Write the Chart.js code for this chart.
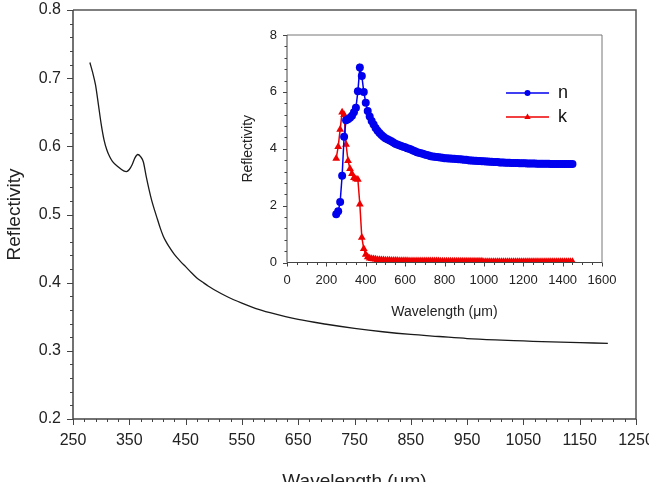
<!DOCTYPE html>
<html>
<head>
<meta charset="utf-8">
<script src="https://cdn.jsdelivr.net/npm/chart.js@4.4.1/dist/chart.umd.min.js"></script>
<style>
  html, body { margin: 0; padding: 0; background: #fff; }
  #wrap { position: relative; width: 649px; height: 482px; overflow: hidden; }
  canvas { position: absolute; left: 0; top: 0; }
</style>
</head>
<body>
<div id="wrap">
  <canvas id="main" width="649" height="500"></canvas>
  <canvas id="inset" width="649" height="482"></canvas>
</div>
<script>
// main curve
var mainWl = [280,285,290,295,300,305,310,315,320,330,340,345,350,355,360,365,370,375,380,385,390,395,400,405,410,415,420,430,440,450,460,470,480,490,500,525,550,575,600,650,700,750,800,850,900,950,1000,1050,1100,1150,1200];
var mainR = [0.723,0.708,0.690,0.662,0.633,0.610,0.595,0.585,0.578,0.570,0.564,0.563,0.566,0.573,0.583,0.588,0.585,0.577,0.556,0.537,0.520,0.506,0.493,0.480,0.469,0.4605,0.4535,0.4415,0.432,0.4235,0.415,0.407,0.401,0.395,0.390,0.379,0.370,0.362,0.356,0.346,0.339,0.333,0.328,0.324,0.321,0.318,0.316,0.3145,0.313,0.312,0.311];
var mainXTicks = [250,350,450,550,650,750,850,950,1050,1150,1250];
var mainYTicks = [0.2,0.3,0.4,0.5,0.6,0.7,0.8];

// inset (n, k)
var insetWl = [
  250,260,270,280,290,300,310,320,330,340,
  350,360,370,380,390,400,410,420,430,440,
  450,460,470,480,490,500,510,520,530,540,
  550,560,570,580,590,600,610,620,630,640,
  650,660,670,680,690,700,710,720,730,740,
  750,760,770,780,790,800,810,820,830,840,
  850,860,870,880,890,900,910,920,930,940,
  950,960,970,980,990,1000,1010,1020,1030,1040,
  1050,1060,1070,1080,1090,1100,1110,1120,1130,1140,
  1150,1160,1170,1180,1190,1200,1210,1220,1230,1240,
  1250,1260,1270,1280,1290,1300,1310,1320,1330,1340,
  1350,1360,1370,1380,1390,1400,1410,1420,1430,1440,
  1450];
var nVals = [
  1.70,1.80,2.13,3.05,4.42,5.00,5.04,5.09,5.16,5.28,
  5.44,6.02,6.86,6.56,6.00,5.62,5.33,5.13,4.98,4.85,
  4.73,4.63,4.55,4.48,4.42,4.37,4.33,4.30,4.26,4.22,
  4.18,4.15,4.12,4.10,4.07,4.05,4.02,4.00,3.97,3.94,
  3.91,3.88,3.86,3.84,3.82,3.80,3.78,3.76,3.74,3.73,
  3.72,3.71,3.70,3.69,3.68,3.67,3.67,3.66,3.66,3.65,
  3.65,3.64,3.63,3.63,3.62,3.61,3.61,3.60,3.59,3.59,
  3.58,3.58,3.57,3.57,3.56,3.56,3.55,3.55,3.54,3.54,
  3.53,3.53,3.53,3.52,3.52,3.52,3.51,3.51,3.51,3.50,
  3.50,3.50,3.50,3.49,3.49,3.49,3.49,3.48,3.48,3.48,
  3.48,3.48,3.47,3.47,3.47,3.47,3.47,3.47,3.47,3.46,
  3.46,3.46,3.46,3.46,3.46,3.46,3.46,3.46,3.46,3.46,
  3.46];
var kVals = [
  3.66,4.07,4.68,5.28,5.20,4.15,3.58,3.30,3.12,2.98,
  2.94,2.92,2.05,0.88,0.48,0.28,0.19,0.15,0.13,0.12,
  0.11,0.10,0.10,0.09,0.09,0.08,0.08,0.08,0.07,0.07,
  0.07,0.07,0.06,0.06,0.06,0.06,0.06,0.05,0.05,0.05,
  0.05,0.05,0.05,0.05,0.05,0.05,0.05,0.05,0.05,0.05,
  0.05,0.05,0.05,0.04,0.04,0.04,0.04,0.04,0.04,0.04,
  0.04,0.04,0.04,0.04,0.04,0.04,0.04,0.04,0.04,0.04,
  0.04,0.04,0.04,0.04,0.04,0.03,0.03,0.03,0.03,0.03,
  0.03,0.03,0.03,0.03,0.03,0.03,0.03,0.03,0.03,0.03,
  0.03,0.03,0.03,0.03,0.03,0.03,0.03,0.03,0.03,0.03,
  0.03,0.03,0.03,0.03,0.03,0.03,0.03,0.03,0.03,0.03,
  0.03,0.03,0.03,0.03,0.03,0.03,0.03,0.03,0.03,0.03,
  0.03];
var insetXTicks = [0,200,400,600,800,1000,1200,1400,1600];
var insetYTicks = [0,2,4,6,8];

var FONT = 'Liberation Sans, Arial, sans-serif';

function pts(xs, ys) {
  return xs.map(function (x, i) { return { x: x, y: ys[i] }; });
}

// axis box + outward major/minor ticks
var framePlugin = {
  id: 'frame',
  afterDatasetsDraw: function (chart, args, o) {
    var ctx = chart.ctx, a = chart.chartArea;
    var sx = chart.scales.x, sy = chart.scales.y;
    ctx.save();
    ctx.lineWidth = o.width;
    ctx.strokeStyle = o.frameColor;
    ctx.beginPath();
    ctx.moveTo(a.left, a.top); ctx.lineTo(a.right, a.top); ctx.lineTo(a.right, a.bottom);
    ctx.stroke();
    ctx.strokeStyle = o.axisColor;
    ctx.beginPath();
    ctx.moveTo(a.left, a.top); ctx.lineTo(a.left, a.bottom); ctx.lineTo(a.right, a.bottom);
    ctx.stroke();

    ctx.lineWidth = 1;
    ctx.beginPath();
    var n = Math.round((sx.max - sx.min) / o.minorX);
    for (var i = 0; i <= n; i++) {
      var v = sx.min + i * o.minorX;
      var major = sx.ticks.some(function (t) { return Math.abs(t.value - v) < 1e-6; });
      var px = Math.round(sx.getPixelForValue(v)) + 0.5;
      ctx.moveTo(px, a.bottom);
      ctx.lineTo(px, a.bottom + (major ? o.majorLen : o.minorLen));
    }
    n = Math.round((sy.max - sy.min) / o.minorY);
    for (var j = 0; j <= n; j++) {
      var w = sy.min + j * o.minorY;
      var maj = sy.ticks.some(function (t) { return Math.abs(t.value - w) < 1e-6; });
      var py = Math.round(sy.getPixelForValue(w)) + 0.5;
      ctx.moveTo(a.left, py);
      ctx.lineTo(a.left - (maj ? o.majorLen : o.minorLen), py);
    }
    ctx.stroke();
    ctx.restore();
  }
};

// inset legend: short line with marker, then label
var legendPlugin = {
  id: 'insetLegend',
  afterDraw: function (chart, args, o) {
    if (!o.show) return;
    var ctx = chart.ctx;
    ctx.save();
    chart.data.datasets.forEach(function (ds, i) {
      var y = o.y + i * o.dy;
      var cx = (o.x1 + o.x2) / 2;
      ctx.strokeStyle = ds.borderColor;
      ctx.lineWidth = 1.5;
      ctx.beginPath();
      ctx.moveTo(o.x1, y); ctx.lineTo(o.x2, y);
      ctx.stroke();
      ctx.fillStyle = ds.backgroundColor;
      ctx.beginPath();
      if (ds.pointStyle === 'triangle') {
        ctx.moveTo(cx, y - 3.5); ctx.lineTo(cx + 3.2, y + 2); ctx.lineTo(cx - 3.2, y + 2);
        ctx.closePath();
      } else {
        ctx.arc(cx, y, 3, 0, Math.PI * 2);
      }
      ctx.fill();
      ctx.fillStyle = '#111';
      ctx.font = '18px ' + FONT;
      ctx.textBaseline = 'middle';
      ctx.textAlign = 'left';
      ctx.fillText(ds.label, o.textX, y);
    });
    ctx.restore();
  }
};

function fixedTicks(list) {
  return function (s) { s.ticks = list.map(function (v) { return { value: v }; }); };
}
function plain(v) { return String(v); }

var mainChart = new Chart('main', {
  type: 'line',
  data: {
    datasets: [{
      data: pts(mainWl, mainR),
      borderColor: '#1a1a1a',
      borderWidth: 1.3,
      pointRadius: 0,
      cubicInterpolationMode: 'monotone',
      fill: false
    }]
  },
  options: {
    responsive: false,
    animation: false,
    layout: { padding: { top: 10, right: 13, left: 0, bottom: 0 } },
    plugins: {
      legend: { display: false },
      tooltip: { enabled: false },
      frame: { width: 1.5, axisColor: '#444', frameColor: '#555', minorX: 20, minorY: 0.02, majorLen: 6, minorLen: 3 },
      insetLegend: { show: false }
    },
    scales: {
      x: {
        type: 'linear', min: 250, max: 1250,
        afterBuildTicks: fixedTicks(mainXTicks),
        afterFit: function (s) { s.height = 81; s.paddingLeft = 0; s.paddingRight = 0; },
        grid: { display: false, drawTicks: false }, border: { display: false },
        ticks: { padding: 12, color: '#222', font: { family: FONT, size: 16 }, maxRotation: 0, autoSkip: false, callback: plain },
        title: { display: true, text: 'Wavelength (μm)', color: '#222', font: { family: FONT, size: 19 }, padding: { top: 0, bottom: 7 } }
      },
      y: {
        type: 'linear', min: 0.2, max: 0.8,
        afterBuildTicks: fixedTicks(mainYTicks),
        afterFit: function (s) { s.width = 73; s.paddingTop = 0; s.paddingBottom = 0; },
        grid: { display: false, drawTicks: false }, border: { display: false },
        ticks: { padding: 12, color: '#222', font: { family: FONT, size: 16 }, callback: function (v) { return v.toFixed(1); } },
        title: { display: true, text: 'Reflectivity', color: '#222', font: { family: FONT, size: 19 }, padding: { top: 3, bottom: 0 } }
      }
    }
  },
  plugins: [framePlugin, legendPlugin]
});

var insetChart = new Chart('inset', {
  type: 'line',
  data: {
    datasets: [{
      label: 'n',
      data: pts(insetWl, nVals),
      borderColor: '#0000ee',
      backgroundColor: '#0000ee',
      borderWidth: 1.5,
      pointStyle: 'circle',
      pointRadius: 4,
      pointBorderWidth: 0,
      tension: 0
    }, {
      label: 'k',
      data: pts(insetWl, kVals),
      borderColor: '#ee0000',
      backgroundColor: '#ee0000',
      borderWidth: 1.5,
      pointStyle: 'triangle',
      pointRadius: 4.5,
      pointBorderWidth: 0,
      tension: 0
    }]
  },
  options: {
    responsive: false,
    animation: false,
    layout: { padding: { top: 35, right: 47, left: 235, bottom: 161.5 } },
    plugins: {
      legend: { display: false },
      tooltip: { enabled: false },
      frame: { width: 1, axisColor: '#444', frameColor: '#777', minorX: 50, minorY: 0.4, majorLen: 4, minorLen: 2.5 },
      insetLegend: { show: true, x1: 506, x2: 549, textX: 558, y: 93, dy: 24 }
    },
    scales: {
      x: {
        type: 'linear', min: 0, max: 1600,
        afterBuildTicks: fixedTicks(insetXTicks),
        afterFit: function (s) { s.height = 58; s.paddingLeft = 0; s.paddingRight = 0; },
        grid: { display: false, drawTicks: false }, border: { display: false },
        ticks: { padding: 10, color: '#222', font: { family: FONT, size: 13 }, maxRotation: 0, autoSkip: false, callback: plain },
        title: { display: true, text: 'Wavelength (μm)', color: '#222', font: { family: FONT, size: 14 }, padding: { top: 0, bottom: 0 } }
      },
      y: {
        type: 'linear', min: 0, max: 8,
        afterBuildTicks: fixedTicks(insetYTicks),
        afterFit: function (s) { s.width = 52; s.paddingTop = 0; s.paddingBottom = 0; },
        grid: { display: false, drawTicks: false }, border: { display: false },
        ticks: { padding: 10, color: '#222', font: { family: FONT, size: 13 }, callback: plain },
        title: { display: true, text: 'Reflectivity', color: '#222', font: { family: FONT, size: 14 }, padding: { top: 5, bottom: 0 } }
      }
    }
  },
  plugins: [framePlugin, legendPlugin]
});
</script>
</body>
</html>
